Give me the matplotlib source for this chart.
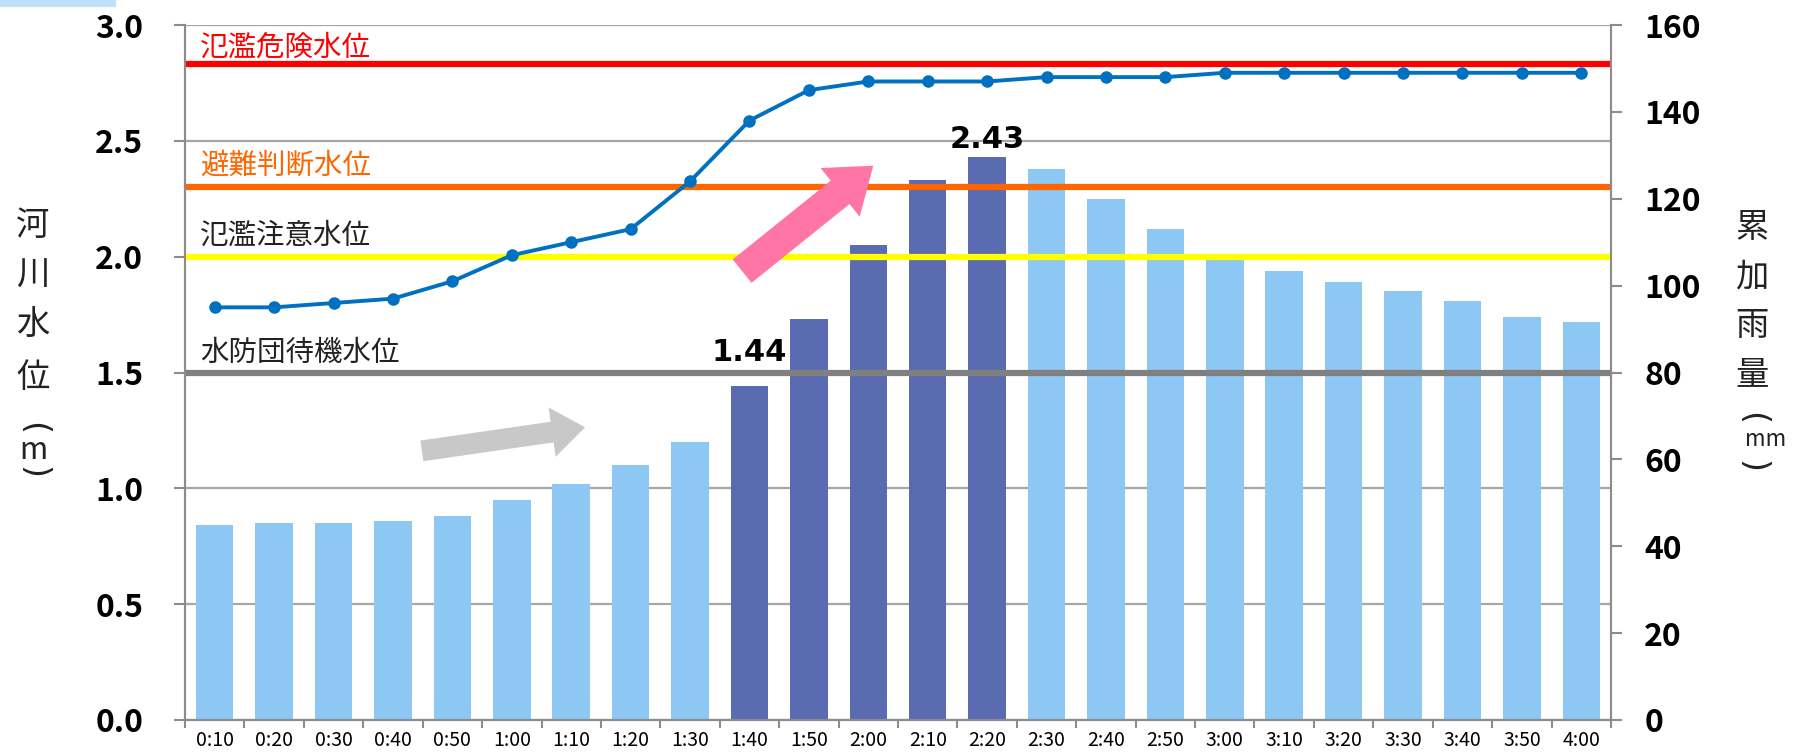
import numpy as np
import matplotlib
matplotlib.use("Agg")
import matplotlib.pyplot as plt
from matplotlib.patches import FancyArrowPatch, Rectangle

plt.rcParams['font.family'] = ['Noto Sans CJK JP', 'DejaVu Sans']

# ---- data ----
times = ["0:10", "0:20", "0:30", "0:40", "0:50", "1:00", "1:10", "1:20", "1:30", "1:40",
         "1:50", "2:00", "2:10", "2:20", "2:30", "2:40", "2:50", "3:00", "3:10", "3:20",
         "3:30", "3:40", "3:50", "4:00"]
river_level = [0.84, 0.85, 0.85, 0.86, 0.88, 0.95, 1.02, 1.10, 1.20, 1.44,
               1.73, 2.05, 2.33, 2.43, 2.38, 2.25, 2.12, 1.99, 1.94, 1.89,
               1.85, 1.81, 1.74, 1.72]
rain_cum = [95, 95, 96, 97, 101, 107, 110, 113, 124, 138,
            145, 147, 147, 147, 148, 148, 148, 149, 149, 149,
            149, 149, 149, 149]
highlight = [False] * 9 + [True] * 5 + [False] * 10
threshold_names = ["氾濫危険水位", "避難判断水位", "氾濫注意水位", "水防団待機水位"]
threshold_values = [2.83, 2.30, 2.00, 1.50]
threshold_colors = ["#FF0000", "#FF6600", "#FFFF00", "#808080"]
threshold_text_colors = ["#FF0000", "#FF6600", "#222222", "#222222"]
threshold_text_offsets = [6.5, 9.5, 9.5, 8.5]
label_idx = [9, 13]
label_text = ["1.44", "2.43"]
label_offsets = [18, 6.5]

W, H = 1800, 755
fig = plt.figure(figsize=(W / 100, H / 100), dpi=100)
fig.patches.append(Rectangle((0, 1 - 6 / H), 115 / W, 6 / H, transform=fig.transFigure,
                             color="#BFE0F8", zorder=0))

L, R, T, B = 185, 1611, 25, 720
ax = fig.add_axes([L / W, 1 - B / H, (R - L) / W, (B - T) / H])

x = np.arange(len(times))
bar_colors = ["#5B6BB2" if h else "#8DC8F4" for h in highlight]
ax.bar(x, river_level, width=0.63, color=bar_colors, zorder=2)
ax.set_xlim(-0.5, len(times) - 0.5)
ax.set_ylim(0, 3.0)
yt = np.arange(0, 3.01, 0.5)
ax.set_yticks(yt)
ax.set_yticklabels([f"{v:.1f}" for v in yt], fontsize=23, fontweight='bold')
ax.yaxis.grid(True, color="#A6A6A6", lw=1.6, zorder=0)
ax.set_axisbelow(True)

ax.set_xticks(x)
ax.set_xticklabels(times, fontsize=14)
ax.set_xticks(np.arange(-0.5, len(times), 1), minor=True)
ax.tick_params(axis='x', which='major', length=0, pad=7)
ax.tick_params(axis='x', which='minor', length=6, width=1.5, color="#8C8C8C", direction='out')
ax.tick_params(axis='y', length=8, width=1.5, color="#8C8C8C", direction='out', pad=22)

for s in ['left', 'right', 'bottom']:
    ax.spines[s].set_color("#8C8C8C")
    ax.spines[s].set_linewidth(1.5)
ax.spines['top'].set_visible(False)

for name, val, c, tc, off in zip(threshold_names, threshold_values, threshold_colors,
                                 threshold_text_colors, threshold_text_offsets):
    ax.axhline(val, color=c, lw=4.5, zorder=3)
    ax.annotate(name, xy=(0, val), xycoords=('axes fraction', 'data'),
                xytext=(11, off), textcoords='offset points', ha='left', va='baseline',
                fontsize=20.5, color=tc, zorder=4)

for i, t, off in zip(label_idx, label_text, label_offsets):
    ax.annotate(t, xy=(x[i], river_level[i]), xytext=(0, off), textcoords='offset points',
                ha='center', va='baseline', fontsize=22, fontweight='bold',
                family='DejaVu Sans', color='black', zorder=5)

# arrows (annotations)
ax.add_patch(FancyArrowPatch((3.44, 1.16), (6.28, 1.265),
                             arrowstyle="simple,head_width=2.4,head_length=1.6,tail_width=1.0",
                             mutation_scale=15, color="#C8C8C8", lw=0, zorder=4))
ax.add_patch(FancyArrowPatch((8.84, 1.93), (11.12, 2.40),
                             arrowstyle="simple,head_width=2.5,head_length=1.7,tail_width=1.2",
                             mutation_scale=18, color="#FF75A5", lw=0, zorder=4))

ax2 = ax.twinx()
ax2.plot(x, rain_cum, color="#0070C0", lw=2.8, marker='o', markersize=8, zorder=6)
ax2.set_ylim(0, 160)
rt = list(range(0, 161, 20))
ax2.set_yticks(rt)
ax2.set_yticklabels([str(v) for v in rt], fontsize=23, fontweight='bold')
ax2.tick_params(axis='y', length=8, width=1.5, color="#8C8C8C", direction='out', pad=16)
for s in ['left', 'right', 'bottom']:
    ax2.spines[s].set_color("#8C8C8C")
    ax2.spines[s].set_linewidth(1.5)
ax2.spines['top'].set_visible(False)

def ftext(px, py, s, **kw):
    fig.text(px / W, 1 - py / H, s, ha='center', va='center', rotation_mode='anchor', **kw)

for ch, py in zip("河川水位", [225, 275, 325, 377]):
    ftext(33, py, ch, fontsize=24, color="#222222")
ftext(33, 428, "(", fontsize=24, rotation=-90, color="#222222", family='DejaVu Sans')
ftext(33, 450, "m", fontsize=22, color="#222222")
ftext(33, 473, ")", fontsize=24, rotation=-90, color="#222222", family='DejaVu Sans')

for ch, py in zip("累加雨量", [227, 277, 325, 375]):
    ftext(1752, py, ch, fontsize=24, color="#222222")
ftext(1752, 419, "(", fontsize=24, rotation=-90, color="#222222", family='DejaVu Sans')
ftext(1766, 439, "mm", fontsize=16, color="#222222")
ftext(1752, 466, ")", fontsize=24, rotation=-90, color="#222222", family='DejaVu Sans')

fig.savefig("out.png", dpi=100)
